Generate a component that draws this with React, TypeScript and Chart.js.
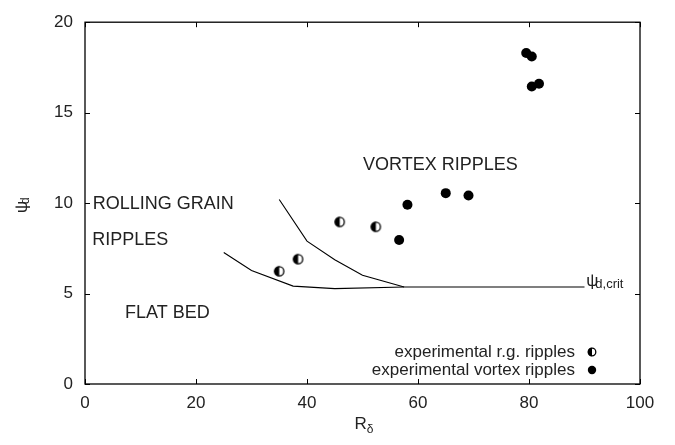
import React, { useEffect, useRef } from "react";
import { Chart, registerables } from "chart.js";

Chart.register(...registerables);

const xTickValues = [0, 20, 40, 60, 80, 100];
const yTickValues = [0, 5, 10, 15, 20];

const rgRipplesX = [35.0, 38.4, 45.9, 52.4];
const rgRipplesY = [6.23, 6.9, 8.96, 8.69];

const vortexX = [56.6, 58.1, 65.0, 69.1, 79.5, 80.5, 80.5, 81.8];
const vortexY = [7.96, 9.91, 10.55, 10.42, 18.3, 18.1, 16.45, 16.6];

const flatBedLineX = [25, 30, 37.5, 45, 57.5, 90];
const flatBedLineY = [7.27, 6.27, 5.41, 5.27, 5.36, 5.36];

const rollingLineX = [35, 40, 45, 50, 57.5];
const rollingLineY = [10.2, 7.9, 6.87, 6.01, 5.36];

const regionLabels = ["VORTEX RIPPLES", "ROLLING GRAIN", "RIPPLES", "FLAT BED"];
const regionLabelX = [50.1, 1.4, 1.3, 7.2];
const regionLabelY = [12.08, 9.96, 7.98, 3.93];

const legendLabels = ["experimental r.g. ripples", "experimental vortex ripples"];

const FONT = "'Liberation Sans', Arial, Helvetica, sans-serif";
const TEXT = "#222";

function makeHalfMarker(r: number): HTMLCanvasElement {
  const s = Math.ceil(r * 2 + 3);
  const c = document.createElement("canvas");
  c.width = s;
  c.height = s;
  const ctx = c.getContext("2d")!;
  const cx = s / 2;
  const cy = s / 2;
  ctx.fillStyle = "#fff";
  ctx.beginPath();
  ctx.arc(cx, cy, r, 0, Math.PI * 2);
  ctx.fill();
  ctx.fillStyle = "#000";
  ctx.beginPath();
  ctx.arc(cx, cy, r, Math.PI / 2, (Math.PI * 3) / 2);
  ctx.closePath();
  ctx.fill();
  ctx.strokeStyle = "#000";
  ctx.lineWidth = 1.3;
  ctx.beginPath();
  ctx.arc(cx, cy, r - 0.4, 0, Math.PI * 2);
  ctx.stroke();
  return c;
}

function zip(xs: number[], ys: number[]) {
  return xs.map((x, i) => ({ x, y: ys[i] }));
}

export default function App() {
  const ref = useRef<HTMLCanvasElement | null>(null);

  useEffect(() => {
    document.body.style.margin = "0";
    const halfMarker = makeHalfMarker(5);
    const halfLegend = makeHalfMarker(4.2);

    const decor = {
      id: "decor",
      afterDraw(chart: any) {
        const ctx = chart.ctx as CanvasRenderingContext2D;
        const { left, right, top, bottom } = chart.chartArea;
        const xs = chart.scales.x;
        const ys = chart.scales.y;
        ctx.save();
        // frame
        ctx.strokeStyle = "#000";
        ctx.lineWidth = 1.3;
        ctx.strokeRect(left, top, right - left, bottom - top);
        // inward ticks
        ctx.lineWidth = 1;
        ctx.beginPath();
        xTickValues.forEach((v) => {
          const px = Math.round(xs.getPixelForValue(v)) + 0.5;
          ctx.moveTo(px, bottom);
          ctx.lineTo(px, bottom - 5);
          ctx.moveTo(px, top);
          ctx.lineTo(px, top + 5);
        });
        yTickValues.forEach((v) => {
          const py = Math.round(ys.getPixelForValue(v)) + 0.5;
          ctx.moveTo(left, py);
          ctx.lineTo(left + 5, py);
          ctx.moveTo(right, py);
          ctx.lineTo(right - 5, py);
        });
        ctx.stroke();

        // region labels
        ctx.fillStyle = TEXT;
        ctx.font = `18px ${FONT}`;
        ctx.textBaseline = "middle";
        ctx.textAlign = "left";
        regionLabels.forEach((t, i) => {
          ctx.fillText(t, xs.getPixelForValue(regionLabelX[i]), ys.getPixelForValue(regionLabelY[i]));
        });

        // psi_d,crit label
        const cx = xs.getPixelForValue(90.3);
        const cy = ys.getPixelForValue(5.68);
        ctx.font = `17px ${FONT}`;
        ctx.fillText("\u03C8", cx, cy);
        const pw = ctx.measureText("\u03C8").width;
        ctx.font = `13px ${FONT}`;
        ctx.fillText("d,crit", cx + pw - 3, cy + 3);

        // legend
        ctx.font = `17px ${FONT}`;
        ctx.textAlign = "right";
        const lx = right - 65;
        const ly1 = bottom - 32;
        const ly2 = bottom - 14;
        ctx.fillText(legendLabels[0], lx, ly1);
        ctx.fillText(legendLabels[1], lx, ly2);
        const sx = right - 48;
        ctx.drawImage(halfLegend, sx - halfLegend.width / 2, ly1 - halfLegend.height / 2);
        ctx.fillStyle = "#000";
        ctx.beginPath();
        ctx.arc(sx, ly2, 4.2, 0, Math.PI * 2);
        ctx.fill();

        // axis titles
        ctx.fillStyle = TEXT;
        ctx.textAlign = "left";
        const tx = (left + right) / 2 - 8;
        const ty = 424;
        ctx.font = `17px ${FONT}`;
        ctx.fillText("R", tx, ty);
        const rw = ctx.measureText("R").width;
        ctx.font = `12px ${FONT}`;
        ctx.fillText("\u03B4", tx + rw, ty + 6);

        ctx.translate(22, (top + bottom) / 2 + 2);
        ctx.rotate(-Math.PI / 2);
        ctx.font = `17px ${FONT}`;
        ctx.textAlign = "left";
        ctx.fillText("\u03C8", -8, 0);
        const yw = ctx.measureText("\u03C8").width;
        ctx.font = `12px ${FONT}`;
        ctx.fillText("d", -8 + yw - 3, 4);
        ctx.restore();
      },
    };

    const chart = new Chart(ref.current!, {
      type: "scatter",
      data: {
        datasets: [
          {
            label: "flat bed boundary",
            data: zip(flatBedLineX, flatBedLineY),
            showLine: true,
            borderColor: "#000",
            borderWidth: 1.1,
            pointRadius: 0,
            tension: 0,
          },
          {
            label: "rolling grain boundary",
            data: zip(rollingLineX, rollingLineY),
            showLine: true,
            borderColor: "#000",
            borderWidth: 1.1,
            pointRadius: 0,
            tension: 0,
          },
          {
            label: legendLabels[0],
            data: zip(rgRipplesX, rgRipplesY),
            pointStyle: halfMarker as any,
            pointRadius: 5,
          },
          {
            label: legendLabels[1],
            data: zip(vortexX, vortexY),
            pointStyle: "circle",
            pointRadius: 5,
            backgroundColor: "#000",
            borderColor: "#000",
            borderWidth: 0,
          },
        ],
      },
      options: {
        animation: false,
        responsive: false,
        maintainAspectRatio: false,
        layout: { padding: { top: 18, right: 35, left: 0, bottom: 0 } },
        plugins: { legend: { display: false }, tooltip: { enabled: false } },
        scales: {
          x: {
            type: "linear",
            min: 0,
            max: 100,
            grid: { display: false, drawTicks: false },
            border: { display: false },
            afterFit: (s: any) => {
              s.height = 61;
            },
            afterBuildTicks: (s: any) => {
              s.ticks = xTickValues.map((v) => ({ value: v }));
            },
            ticks: { padding: 9, color: TEXT, font: { family: FONT, size: 17 } },
          },
          y: {
            type: "linear",
            min: 0,
            max: 20,
            grid: { display: false, drawTicks: false },
            border: { display: false },
            afterFit: (s: any) => {
              s.width = 85;
            },
            afterBuildTicks: (s: any) => {
              s.ticks = yTickValues.map((v) => ({ value: v }));
            },
            ticks: { padding: 12, color: TEXT, font: { family: FONT, size: 17 } },
          },
        },
      },
      plugins: [decor],
    } as any);
    return () => chart.destroy();
  }, []);

  return (
    <div style={{ width: 675, height: 445 }}>
      <canvas ref={ref} width={675} height={445} style={{ display: "block", width: 675, height: 445 }} />
    </div>
  );
}
